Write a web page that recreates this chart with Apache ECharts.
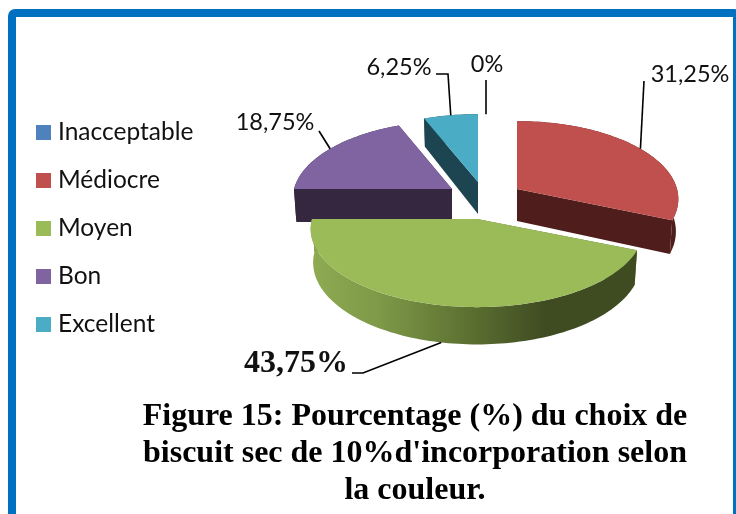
<!DOCTYPE html>
<html><head><meta charset="utf-8">
<style>html,body{margin:0;padding:0;background:#fff}#c{width:736px;height:514px}</style>
<script src="https://cdn.jsdelivr.net/npm/echarts@6/dist/echarts.min.js"></script>
</head><body><div id="c"></div>
<script>
const categories = ['Inacceptable', 'Médiocre', 'Moyen', 'Bon', 'Excellent'];
const values = [0, 31.25, 43.75, 18.75, 6.25];
const colors = ['#4f81bd', '#c0504d', '#9bbb59', '#8064a2', '#4bacc6'];
const sideColors = ['#2a4565', '#4f1e1c', '#5a6e30', '#35273f', '#1d4451'];
const titleLines = ['Figure 15: Pourcentage (%) du choix de', "biscuit sec de 10%d'incorporation selon", 'la couleur.'];

// layout of the exploded perspective pie
const K = 0.13, RY = 78;
const slices = [
  {cx: 486, cy: 182, rx: 160, d: 33, z: 1, tx: 487, ty: 64},
  {cx: 517, cy: 189, rx: 160, d: 32, z: 3, tx: 690, ty: 74},
  {cx: 477, cy: 219, rx: 165, d: 33, z: 4, tx: 296, ty: 364, big: true},
  {cx: 452, cy: 189, rx: 158, d: 33, z: 2, tx: 275, ty: 122},
  {cx: 478, cy: 182, rx: 160, d: 32, z: 1, tx: 399, ty: 67}
];
const leaderStart = [
  [[486, 80]],
  [[644, 81]],
  [[352, 373], [363, 373]],
  [[319, 131]],
  [[436, 74], [448, 74]]
];
const total = values.reduce((a, b) => a + b, 0);

function pt(s, deg, bottom) {
  const a = deg * Math.PI / 180, u = Math.sin(a), v = -Math.cos(a), p = 1 + K * v;
  const b = bottom ? 0.985 : 1;
  return [s.cx + s.rx * u * p * b, s.cy + RY * v * p + (bottom ? s.d * p : 0)];
}
function apex(s, bottom) { return [s.cx, s.cy + (bottom ? s.d : 0)]; }
function arc(s, a0, a1, bottom) {
  const out = [], n = Math.max(2, Math.ceil(Math.abs(a1 - a0) / 1.5));
  for (let i = 0; i <= n; i++) out.push(pt(s, a0 + (a1 - a0) * i / n, bottom));
  return out;
}
function fmt(v) { return String(v).replace('.', ',') + '%'; }

function renderSlice(i, api) {
  const v = api.value(0), s = slices[i];
  let start = 0;
  for (let k = 0; k < i; k++) start += values[k] / total * 360;
  const end = start + v / total * 360, mid = (start + end) / 2;
  const children = [];
  if (v > 0) {
    const side = i === 2
      ? {type: 'linear', x: 312, y: 0, x2: 635, y2: 0, global: true, colorStops: [
          {offset: 0, color: '#8eaa52'}, {offset: 0.2, color: '#7f9a48'}, {offset: 0.5, color: '#5a6e30'},
          {offset: 0.72, color: '#3f4c22'}, {offset: 1, color: '#3f4c22'}]}
      : sideColors[i];
    const quad = (deg) => ({type: 'polygon', shape: {points: [apex(s), pt(s, deg), pt(s, deg, true), apex(s, true)]}, style: {fill: sideColors[i]}});
    children.push(quad(start), quad(end));
    children.push({type: 'polygon', shape: {points: arc(s, start, end).concat(arc(s, end, start, true))}, style: {fill: side}});
    children.push({type: 'polygon', shape: {points: [apex(s)].concat(arc(s, start, end))}, style: {fill: colors[i]}});
  }
  const tip = v > 0 && i === 2 ? pt(s, mid, true) : pt(s, mid);
  children.push({type: 'polyline', shape: {points: leaderStart[i].concat([tip])}, style: {stroke: '#000', lineWidth: 1.6, fill: null}});
  children.push({type: 'text', x: s.tx, y: s.ty, style: {
    text: fmt(v), fill: '#111', align: 'center', verticalAlign: 'middle',
    font: s.big ? 'bold 32px "Liberation Serif"' : '23.5px Lato'}});
  return {type: 'group', children: children};
}

const chart = echarts.init(document.getElementById('c'), null, {renderer: 'canvas'});
chart.setOption({
  animation: false,
  backgroundColor: '#fff',
  legend: {
    orient: 'vertical', left: 31, top: 115, itemWidth: 15, itemHeight: 15, itemGap: 23,
    icon: 'rect', selectedMode: false, data: categories,
    textStyle: {fontFamily: 'Lato', fontSize: 24.5, color: '#111', padding: [0, 0, 0, 2]}
  },
  title: {
    text: titleLines.join('\n'), left: 410, top: 393, textAlign: 'center',
    textStyle: {fontFamily: 'Liberation Serif', fontWeight: 'bold', fontSize: 32, lineHeight: 37, color: '#000'}
  },
  graphic: [{
    type: 'rect', silent: true, z: 10,
    shape: {x: 12, y: 13, width: 725, height: 560, r: 3},
    style: {fill: null, stroke: '#0070c0', lineWidth: 8}
  }],
  series: categories.map((name, i) => ({
    type: 'custom', name: name, coordinateSystem: 'none', silent: true,
    z: slices[i].z, itemStyle: {color: colors[i]}, data: [[values[i]]],
    renderItem: (params, api) => renderSlice(i, api)
  }))
});
</script></body></html>
